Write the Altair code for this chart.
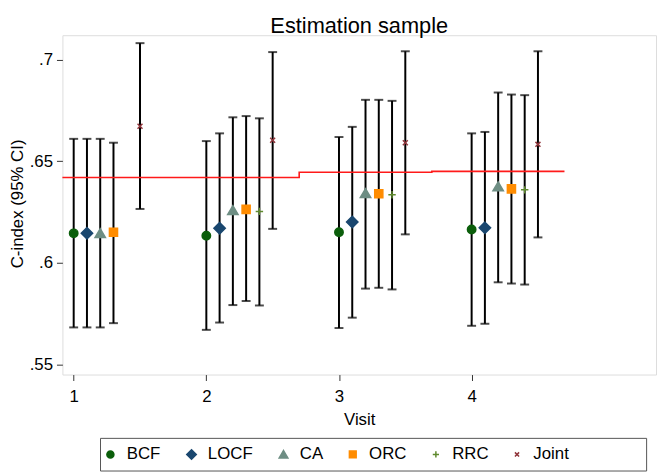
import altair as alt
import pandas as pd

# ---- data ----
visits = [1, 2, 3, 4]
series = ["BCF", "LOCF", "CA", "ORC", "RRC", "Joint"]
offsets = [0.0, 0.1, 0.2, 0.3, 0.4, 0.5]
colors = ["#0b5e0b", "#1a476f", "#6e8e84", "#ff8c00", "#5f8a2e", "#90353b"]

est_BCF = [0.6145, 0.6133, 0.6150, 0.6164]
lo_BCF = [0.5682, 0.5670, 0.5679, 0.5690]
hi_BCF = [0.6610, 0.6599, 0.6619, 0.6637]

est_LOCF = [0.6145, 0.6170, 0.6201, 0.6172]
lo_LOCF = [0.5682, 0.5706, 0.5730, 0.5700]
hi_LOCF = [0.6610, 0.6637, 0.6669, 0.6644]

est_CA = [0.6145, 0.6258, 0.6342, 0.6375]
lo_CA = [0.5682, 0.5792, 0.5873, 0.5904]
hi_CA = [0.6610, 0.6716, 0.6802, 0.6838]

est_ORC = [0.6150, 0.6263, 0.6340, 0.6364]
lo_ORC = [0.5703, 0.5812, 0.5877, 0.5898]
hi_ORC = [0.6591, 0.6722, 0.6802, 0.6828]

est_RRC = [None, 0.6253, 0.6335, 0.6359]
lo_RRC = [None, 0.5790, 0.5869, 0.5893]
hi_RRC = [None, 0.6711, 0.6797, 0.6825]

est_Joint = [0.6672, 0.6603, 0.6591, 0.6583]
lo_Joint = [0.6265, 0.6167, 0.6140, 0.6125]
hi_Joint = [0.7081, 0.7037, 0.7041, 0.7041]

# red reference step line
ref_x = [0.915, 2.7, 3.7, 4.7]
ref_y = [0.6420, 0.6446, 0.6450, 0.6450]

y_ticks = [0.55, 0.60, 0.65, 0.70]

# marker shapes (custom paths, scaled by symbol size)
shapes = [
    "M0.85,0A0.85,0.85,0,1,1,-0.85,0A0.85,0.85,0,1,1,0.85,0Z",
    "M0,-1.15L1.15,0L0,1.15L-1.15,0Z",
    "M0,-0.95L1.05,0.85L-1.05,0.85Z",
    "M-0.82,-0.82L0.82,-0.82L0.82,0.82L-0.82,0.82Z",
    "M-0.75,0L0.75,0M0,-0.75L0,0.75",
    "M-0.5,-0.5L0.5,0.5M-0.5,0.5L0.5,-0.5",
]

table = {
    "BCF": (est_BCF, lo_BCF, hi_BCF),
    "LOCF": (est_LOCF, lo_LOCF, hi_LOCF),
    "CA": (est_CA, lo_CA, hi_CA),
    "ORC": (est_ORC, lo_ORC, hi_ORC),
    "RRC": (est_RRC, lo_RRC, hi_RRC),
    "Joint": (est_Joint, lo_Joint, hi_Joint),
}

rows = []
for s, off in zip(series, offsets):
    e, lo, hi = table[s]
    for i, v in enumerate(visits):
        if e[i] is None:
            continue
        rows.append({"series": s, "x": v + off, "est": e[i], "lo": lo[i], "hi": hi[i]})
df = pd.DataFrame(rows)
ref_df = pd.DataFrame({"x": ref_x, "y": ref_y})

FONT = "Liberation Sans"

xscale = alt.Scale(domain=[0.915, 5.39], nice=False, zero=False)
yscale = alt.Scale(domain=[0.545, 0.712], nice=False, zero=False)

xaxis = alt.Axis(
    values=visits, format="d", title="Visit", grid=False, domain=False, tickSize=6,
    labelPadding=8, labelFontSize=17, titleFontSize=17, labelFont=FONT,
    titleFont=FONT, titleFontWeight="normal", titleBaseline="alphabetic",
    titleY=50, tickColor="#333", labelColor="black", titleColor="black",
)
yaxis = alt.Axis(
    values=y_ticks, title="C-index (95% CI)", grid=False, domain=False,
    tickSize=6, labelPadding=4, labelFontSize=17, titleFontSize=17,
    labelFont=FONT, titleFont=FONT, titleFontWeight="normal",
    labelExpr="replace(format(datum.value, '.2~f'), '0.', '.')",
    titleAngle=270, titleX=-45, titleY=170, titleAlign="center",
    titleBaseline="middle", tickColor="#333", labelColor="black",
    titleColor="black",
)

base = alt.Chart(df)

bars = base.mark_rule(color="black", strokeWidth=2).encode(
    x=alt.X("x:Q", scale=xscale, axis=xaxis),
    y=alt.Y("lo:Q", scale=yscale, axis=yaxis),
    y2="hi:Q",
)
cap_lo = base.mark_tick(color="black", orient="horizontal", size=9, thickness=2).encode(
    x="x:Q", y="lo:Q"
)
cap_hi = base.mark_tick(color="black", orient="horizontal", size=9, thickness=2).encode(
    x="x:Q", y="hi:Q"
)

ref_line = alt.Chart(ref_df).mark_line(
    color="#ff1a1a", strokeWidth=1.6, interpolate="step-after"
).encode(x="x:Q", y="y:Q")

legend = alt.Legend(
    title=" ", titleOrient="right", titlePadding=70, titleFontSize=4,
    orient="none", legendX=38, legendY=407, direction="horizontal",
    labelFontSize=17, labelFont=FONT, labelColor="black", symbolSize=70,
    symbolStrokeWidth=1.5, symbolOffset=-6, labelOffset=8, columnPadding=23,
    padding=8, strokeColor="#555", fillColor="white",
)
cscale = alt.Scale(domain=series, range=colors)
points = base.mark_point(filled=False, opacity=1, size=100, strokeWidth=1.5).encode(
    x="x:Q",
    y="est:Q",
    color=alt.Color("series:N", scale=cscale, legend=legend, sort=series),
    fill=alt.Fill("series:N", scale=cscale, legend=legend, sort=series),
    shape=alt.Shape("series:N", scale=alt.Scale(domain=series, range=shapes),
                    legend=legend, sort=series),
)

chart = alt.layer(bars, cap_lo, cap_hi, ref_line, points).properties(
    width=600,
    height=343,
    autosize=alt.AutoSizeParams(type="none"),
    padding={"left": 55, "top": 25, "right": 1, "bottom": 98},
    title=alt.TitleParams(
        "Estimation sample", fontSize=22, font=FONT, fontWeight="normal",
        anchor="middle", offset=0, dy=20, baseline="alphabetic", color="black",
    ),
).configure_view(stroke="#555", strokeWidth=1.5).configure(background="white")

chart.save("out.html", embed_options={"renderer": "svg", "actions": False})
